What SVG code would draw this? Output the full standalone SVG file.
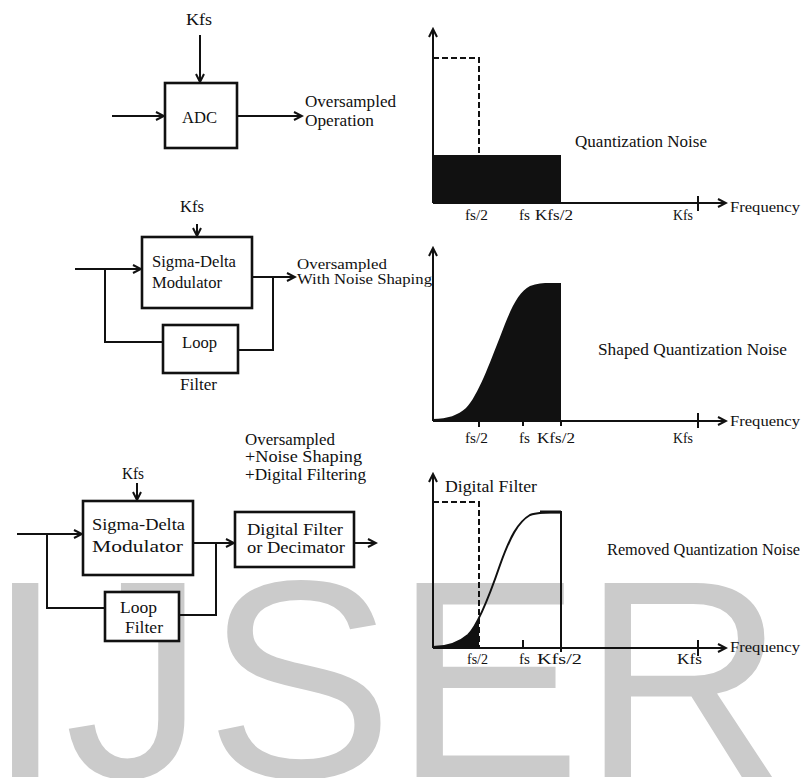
<svg xmlns="http://www.w3.org/2000/svg" width="808" height="778" viewBox="0 0 808 778">
<style>
  text { font-family: "Liberation Serif", "Times New Roman", serif; fill: #111; }
  .lbl { font-size: 16px; }
  .sm { font-size: 15px; }
  .box { fill: #fff; stroke: #111; stroke-width: 2.6; }
  .ln { fill: none; stroke: #111; stroke-width: 2; }
  .ax { fill: none; stroke: #111; stroke-width: 2; }
  .dash { fill: none; stroke: #111; stroke-width: 2; stroke-dasharray: 6 3; }
  .arr { marker-end: url(#ah); }
  .wm { font-family: "Liberation Sans", Arial, sans-serif; font-size: 282px; fill: #cbcbcb; }
</style>
<defs>
  <marker id="ah" markerUnits="userSpaceOnUse" markerWidth="12" markerHeight="12" refX="10" refY="5" orient="auto">
    <path d="M2,1 L10,5 L2,9" fill="none" stroke="#111" stroke-width="2"/>
  </marker>
  <clipPath id="fsClip"><rect x="433" y="470" width="46" height="180"/></clipPath>
</defs>

<text class="wm" x="-14" y="777">IJSER</text>

<!-- Block diagram 1 -->
<g id="adc">
  <rect class="box" x="165" y="83" width="72" height="65"/>
  <text class="lbl" x="182" y="123" textLength="35" lengthAdjust="spacingAndGlyphs">ADC</text>
</g>
<g id="kfs1"><text class="lbl" x="186" y="25" textLength="26" lengthAdjust="spacingAndGlyphs">Kfs</text></g>
<g id="out1">
  <text class="lbl" x="305" y="107" textLength="91" lengthAdjust="spacingAndGlyphs">Oversampled</text>
  <text class="lbl" x="305" y="126" textLength="69" lengthAdjust="spacingAndGlyphs">Operation</text>
</g>

<!-- Block diagram 2 -->
<g id="sdm2">
  <rect class="box" x="142" y="237" width="110" height="71"/>
  <text class="lbl" x="152" y="267" textLength="84" lengthAdjust="spacingAndGlyphs">Sigma-Delta</text>
  <text class="lbl" x="152" y="288" textLength="70" lengthAdjust="spacingAndGlyphs">Modulator</text>
</g>
<g id="loop2">
  <rect class="box" x="163" y="325" width="75" height="48"/>
  <text class="lbl" x="182" y="348" textLength="35" lengthAdjust="spacingAndGlyphs">Loop</text>
  <text class="lbl" x="180" y="390" textLength="37" lengthAdjust="spacingAndGlyphs">Filter</text>
</g>
<g id="kfs2"><text class="lbl" x="180" y="212" textLength="24" lengthAdjust="spacingAndGlyphs">Kfs</text></g>
<g id="out2">
  <text class="sm" x="297" y="269" textLength="90" lengthAdjust="spacingAndGlyphs">Oversampled</text>
  <text class="sm" x="297" y="284" textLength="135" lengthAdjust="spacingAndGlyphs">With Noise Shaping</text>
</g>

<!-- Block diagram 3 -->
<g id="out3">
  <text class="lbl" x="245" y="445" textLength="90" lengthAdjust="spacingAndGlyphs">Oversampled</text>
  <text class="lbl" x="245" y="462" textLength="117" lengthAdjust="spacingAndGlyphs">+Noise Shaping</text>
  <text class="lbl" x="245" y="480" textLength="121" lengthAdjust="spacingAndGlyphs">+Digital Filtering</text>
</g>
<g id="kfs3"><text class="lbl" x="122" y="479" textLength="22" lengthAdjust="spacingAndGlyphs">Kfs</text></g>
<g id="sdm3">
  <rect class="box" x="83" y="501" width="110" height="74"/>
  <text class="lbl" x="92" y="530" textLength="93" lengthAdjust="spacingAndGlyphs">Sigma-Delta</text>
  <text class="lbl" x="92" y="552" textLength="91" lengthAdjust="spacingAndGlyphs">Modulator</text>
</g>
<g id="loop3">
  <rect class="box" x="105" y="592" width="74" height="49"/>
  <text class="lbl" x="120" y="613" textLength="37" lengthAdjust="spacingAndGlyphs">Loop</text>
  <text class="lbl" x="125" y="633" textLength="38" lengthAdjust="spacingAndGlyphs">Filter</text>
</g>
<g id="dfilt3">
  <rect class="box" x="235" y="512" width="119" height="55"/>
  <text class="lbl" x="247" y="535" textLength="96" lengthAdjust="spacingAndGlyphs">Digital Filter</text>
  <text class="lbl" x="247" y="553" textLength="98" lengthAdjust="spacingAndGlyphs">or Decimator</text>
</g>

<!-- Connectors -->
<g id="connectors">
  <line class="ln arr" x1="200" y1="35" x2="200" y2="82"/>
  <line class="ln arr" x1="112" y1="116" x2="164" y2="116"/>
  <line class="ln arr" x1="237" y1="116" x2="302" y2="116"/>

  <line class="ln arr" x1="197" y1="224" x2="197" y2="236"/>
  <line class="ln arr" x1="75" y1="269" x2="141" y2="269"/>
  <polyline class="ln" points="105,269 105,342 163,342"/>
  <line class="ln arr" x1="252" y1="277" x2="295" y2="277"/>
  <polyline class="ln" points="273,277 273,350 238,350"/>

  <line class="ln arr" x1="137" y1="483" x2="137" y2="500"/>
  <line class="ln arr" x1="17" y1="534" x2="82" y2="534"/>
  <polyline class="ln" points="47,534 47,608 105,608"/>
  <line class="ln arr" x1="193" y1="543" x2="234" y2="543"/>
  <polyline class="ln" points="216,543 216,615 179,615"/>
  <line class="ln arr" x1="354" y1="543" x2="376" y2="543"/>
</g>

<!-- Graph 1 -->
<g id="graph1">
  <rect x="433" y="155" width="128" height="48" fill="#111"/>
  <polyline class="dash" points="433,58 479,58 479,155"/>
  <line class="ax arr" x1="433" y1="203" x2="433" y2="29"/>
  <line class="ax arr" x1="433" y1="203" x2="726" y2="203"/>
  <line class="ax" x1="523" y1="195" x2="523" y2="203"/>
  <line class="ax" x1="698" y1="196" x2="698" y2="211"/>
  <text class="lbl" x="575" y="147" textLength="132" lengthAdjust="spacingAndGlyphs">Quantization Noise</text>
  <text class="sm" x="465" y="220" textLength="23" lengthAdjust="spacingAndGlyphs">fs/2</text>
  <text class="sm" x="519" y="220" textLength="11" lengthAdjust="spacingAndGlyphs">fs</text>
  <text class="sm" x="535" y="220" textLength="38" lengthAdjust="spacingAndGlyphs">Kfs/2</text>
  <text class="sm" x="673" y="220" textLength="20" lengthAdjust="spacingAndGlyphs">Kfs</text>
  <text class="sm" x="730" y="212" textLength="70" lengthAdjust="spacingAndGlyphs">Frequency</text>
</g>

<!-- Graph 2 -->
<g id="graph2">
  <path d="M433,421 L433,419 C448,419 458,415 466,408 C478,396 490,362 500,337 C510,310 518,292 530,286 C540,282 550,283 561,283 L561,421 Z" fill="#111"/>
  <line class="ax arr" x1="433" y1="421" x2="433" y2="248"/>
  <line class="ax arr" x1="433" y1="421" x2="726" y2="421"/>
  <line class="ax" x1="479" y1="421" x2="479" y2="427"/>
  <line class="ax" x1="523" y1="413" x2="523" y2="426"/>
  <line class="ax" x1="561" y1="421" x2="561" y2="426"/>
  <line class="ax" x1="698" y1="413" x2="698" y2="428"/>
  <text class="lbl" x="598" y="355" textLength="189" lengthAdjust="spacingAndGlyphs">Shaped Quantization Noise</text>
  <text class="sm" x="465" y="443" textLength="23" lengthAdjust="spacingAndGlyphs">fs/2</text>
  <text class="sm" x="519" y="443" textLength="11" lengthAdjust="spacingAndGlyphs">fs</text>
  <text class="sm" x="537" y="443" textLength="38" lengthAdjust="spacingAndGlyphs">Kfs/2</text>
  <text class="sm" x="673" y="443" textLength="20" lengthAdjust="spacingAndGlyphs">Kfs</text>
  <text class="sm" x="730" y="426" textLength="70" lengthAdjust="spacingAndGlyphs">Frequency</text>
</g>

<!-- Graph 3 -->
<g id="graph3">
  <path d="M433,648 L433,647 C448,647 460,642 468,635 C478,625 488,600 500,565 C510,537 518,522 530,515 L530,648 Z" fill="#111" clip-path="url(#fsClip)"/>
  <path class="ln" d="M433,647 C448,647 460,642 468,635 C478,625 488,600 500,565 C510,537 518,522 530,515 C538,512 550,512 561,512 L561,652"/>
  <line x1="540" y1="512" x2="561" y2="512" stroke="#111" stroke-width="3"/>
  <polyline class="dash" points="433,502 479,502 479,648"/>
  <line class="ax arr" x1="433" y1="648" x2="433" y2="474"/>
  <line class="ax arr" x1="433" y1="648" x2="726" y2="648"/>
  <line class="ax" x1="523" y1="640" x2="523" y2="648"/>
  <line class="ax" x1="698" y1="640" x2="698" y2="656"/>
  <text class="lbl" x="445" y="492" textLength="92" lengthAdjust="spacingAndGlyphs">Digital Filter</text>
  <text class="lbl" x="607" y="555" textLength="193" lengthAdjust="spacingAndGlyphs">Removed Quantization Noise</text>
  <text class="sm" x="467" y="664" textLength="21" lengthAdjust="spacingAndGlyphs">fs/2</text>
  <text class="sm" x="519" y="664" textLength="11" lengthAdjust="spacingAndGlyphs">fs</text>
  <text class="sm" x="537" y="664" textLength="45" lengthAdjust="spacingAndGlyphs">Kfs/2</text>
  <text class="sm" x="677" y="664" textLength="25" lengthAdjust="spacingAndGlyphs">Kfs</text>
  <text class="sm" x="730" y="652" textLength="70" lengthAdjust="spacingAndGlyphs">Frequency</text>
</g>
</svg>
